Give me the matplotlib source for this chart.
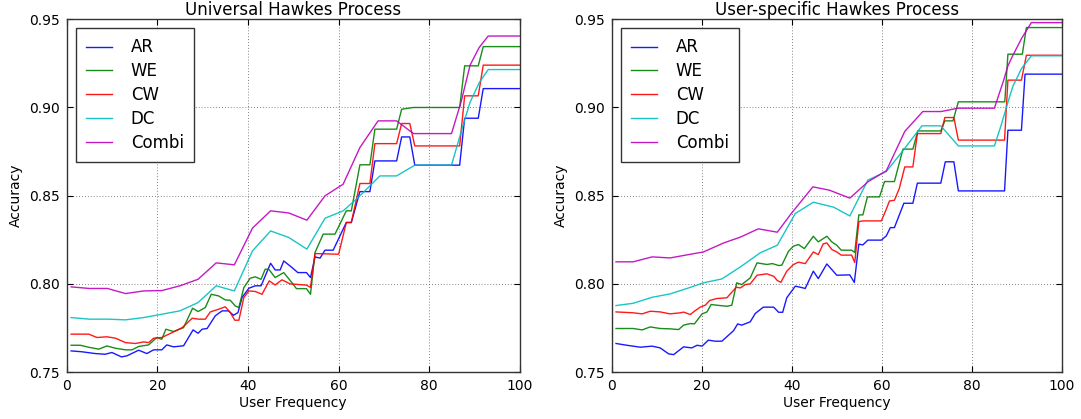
import matplotlib
matplotlib.use("Agg")
import matplotlib.pyplot as plt

# ---------------- Universal Hawkes Process (left) ----------------
L_AR_x = [1, 3.4, 6.3, 8.5, 10, 12.1, 13.3, 15.9, 17.7, 19.2, 21, 22.1, 23.6, 25.8, 27.9, 29, 29.9, 31, 32.8, 34.3,
          35.7, 36.8, 37.8, 38.7, 40.2, 41.6, 42.9, 45, 46, 47.1, 47.9, 49.7, 51, 52.9, 53.8, 54.8, 55.9, 57, 58.8,
          61.7, 62.8, 64.7, 66.9, 68, 72.8, 73.9, 75.7, 76.8, 86.7, 87.8, 90.8, 91.9, 100]
L_AR_y = [0.762, 0.7615, 0.7605, 0.7601, 0.7611, 0.7586, 0.7592, 0.7624, 0.7605, 0.7626, 0.7626, 0.7654, 0.7643,
          0.7649, 0.7739, 0.772, 0.7743, 0.7747, 0.7819, 0.7847, 0.7847, 0.7822, 0.7837, 0.7923, 0.7975, 0.7989,
          0.7989, 0.8117, 0.8079, 0.8079, 0.813, 0.8093, 0.8064, 0.8064, 0.8036, 0.8153, 0.8146, 0.8191, 0.8191,
          0.8348, 0.8348, 0.8523, 0.8523, 0.8697, 0.8697, 0.8833, 0.8833, 0.8673, 0.8673, 0.8939, 0.8939, 0.9107,
          0.9107]

L_WE_x = [1, 3, 5.2, 7.1, 8.9, 10.8, 13, 14.4, 15.9, 18.1, 19.9, 21, 21.9, 23.6, 25.8, 27.8, 29, 30.6, 31.9, 33.5,
          35, 36.1, 37.2, 38, 39.1, 40.5, 41.6, 42.9, 43.8, 44.6, 46, 47.9, 49.5, 50.7, 52.9, 53.8, 54.8, 56.6, 59.2,
          61.7, 62.8, 64.7, 66.9, 68, 72.8, 73.9, 76.5, 86.7, 87.8, 90.8, 91.9, 100]
L_WE_y = [0.7652, 0.7652, 0.7639, 0.763, 0.7648, 0.7635, 0.7626, 0.7626, 0.7645, 0.7654, 0.7696, 0.7686, 0.7743,
          0.773, 0.7752, 0.7862, 0.7843, 0.7866, 0.7941, 0.7932, 0.7909, 0.7907, 0.7875, 0.7866, 0.7979, 0.8032,
          0.804, 0.8026, 0.8083, 0.8083, 0.8036, 0.8064, 0.8013, 0.7973, 0.7973, 0.7941, 0.8178, 0.8282, 0.8282,
          0.8414, 0.8414, 0.8675, 0.8675, 0.8877, 0.8877, 0.899, 0.90, 0.90, 0.9236, 0.9236, 0.9345, 0.9345]

L_CW_x = [1, 4.9, 6.7, 8.9, 10.8, 13, 15.2, 17, 18.1, 19.2, 21, 23.3, 25.5, 27.7, 29.1, 30.6, 31.7, 33.5, 35, 36.1,
          37.1, 38, 39.1, 40.2, 41.6, 43.1, 44.7, 46, 47.5, 49.3, 52.9, 53.8, 54.8, 60, 61.7, 62.8, 64.7, 66.9, 68,
          72.8, 73.9, 75.7, 76.8, 86.7, 87.8, 90.8, 91.9, 100]
L_CW_y = [0.7715, 0.7715, 0.7696, 0.77, 0.7692, 0.7667, 0.7662, 0.7671, 0.7667, 0.7692, 0.7696, 0.7724, 0.7752,
          0.7805, 0.78, 0.78, 0.7841, 0.7856, 0.787, 0.7838, 0.7794, 0.7794, 0.7923, 0.796, 0.7957, 0.7941, 0.8017,
          0.7994, 0.8023, 0.80, 0.7993, 0.798, 0.8172, 0.8168, 0.8348, 0.8348, 0.8569, 0.8569, 0.8795, 0.8795,
          0.8909, 0.8909, 0.8782, 0.8782, 0.9066, 0.9066, 0.924, 0.924]

L_DC_x = [1, 5, 9, 13, 17, 21, 25, 29, 33, 37, 41, 45, 49, 53, 57, 61, 64.3, 69.1, 72.8, 76.8, 84.9, 87, 89, 91, 93, 100]
L_DC_y = [0.7809, 0.78, 0.78, 0.7796, 0.7809, 0.7828, 0.7847, 0.7894, 0.7989, 0.796, 0.8187, 0.830, 0.8263, 0.8197,
          0.8372, 0.8414, 0.8489, 0.8612, 0.8612, 0.8673, 0.8673, 0.886, 0.903, 0.914, 0.9215, 0.9215]

L_CO_x = [1, 5, 9, 13, 17, 21, 25, 29, 33, 37, 41, 45, 49, 53, 57, 61, 64.7, 68.7, 72.8, 76.5, 84.9, 87, 89, 91, 93, 100]
L_CO_y = [0.7983, 0.7974, 0.7974, 0.7945, 0.796, 0.7962, 0.7989, 0.8026, 0.8119, 0.8108, 0.8316, 0.8414, 0.8402,
          0.8361, 0.8499, 0.8565, 0.8773, 0.8924, 0.8924, 0.8852, 0.8852, 0.903, 0.924, 0.934, 0.9405, 0.9405]

# ---------------- User-specific Hawkes Process (right) ----------------
R_AR_x = [1, 3.4, 6.4, 9, 10.8, 12.7, 13.8, 16, 17.8, 19, 20.1, 21.5, 23, 24.5, 27.1, 28, 28.9, 30.8, 31.9, 33.7, 36,
          37.1, 38, 38.9, 40.8, 41.9, 43, 44.8, 45.9, 47.8, 50, 52.9, 53.9, 54.9, 55.8, 56.9, 59.9, 61, 61.9, 62.8,
          64.9, 66.9, 67.9, 73.1, 74.1, 76, 77, 87.25, 88, 91, 91.8, 100]
R_AR_y = [0.7662, 0.7652, 0.7641, 0.7647, 0.7637, 0.7603, 0.7599, 0.7643, 0.7637, 0.7652, 0.7647, 0.7681, 0.7675,
          0.7675, 0.7735, 0.7773, 0.7766, 0.7785, 0.7832, 0.7868, 0.7868, 0.7839, 0.7839, 0.7921, 0.7987, 0.7981,
          0.7974, 0.8072, 0.803, 0.8113, 0.8049, 0.8051, 0.8008, 0.8225, 0.8221, 0.8248, 0.8248, 0.8272, 0.8319,
          0.8319, 0.8457, 0.8457, 0.8571, 0.8571, 0.8692, 0.8692, 0.8527, 0.8527, 0.8871, 0.8871, 0.9189, 0.9189]

R_WE_x = [1, 4.8, 6.8, 8.6, 10.8, 13, 14.9, 16, 17.5, 18.4, 20.1, 21.2, 22.1, 23.4, 25.6, 26.7, 27.8, 28.9, 30.8,
          32.3, 34.5, 35.7, 37.1, 37.8, 39.3, 40.4, 41.5, 42.8, 44.8, 45.9, 47.8, 48.9, 50, 51, 53.3, 54, 54.9, 55.8,
          56.8, 59.5, 60.6, 62.8, 64.7, 66.9, 68, 73.1, 74, 75.8, 77, 87.3, 88, 91.2, 92.1, 100]
R_WE_y = [0.7747, 0.7747, 0.7739, 0.7756, 0.7747, 0.7745, 0.7741, 0.7766, 0.7775, 0.7773, 0.783, 0.7841, 0.7883,
          0.7879, 0.7873, 0.7879, 0.8006, 0.7996, 0.8034, 0.8119, 0.811, 0.8115, 0.8104, 0.8106, 0.8185, 0.8214,
          0.8223, 0.82, 0.827, 0.8238, 0.827, 0.8238, 0.8219, 0.8191, 0.8191, 0.8178, 0.8391, 0.8391, 0.8493, 0.8493,
          0.858, 0.858, 0.8764, 0.8764, 0.8867, 0.8867, 0.8924, 0.8924, 0.9032, 0.9032, 0.9302, 0.9302, 0.9453,
          0.9453]

R_CW_x = [1, 4.8, 6.8, 8.6, 10.8, 13, 15.3, 16, 17.5, 18.4, 19.7, 20.8, 21.8, 23.4, 25.6, 27.7, 28.6, 29.7, 30.8,
          32.3, 34.5, 36, 36.8, 37.6, 38.9, 40.4, 41.5, 43, 44.8, 45.9, 47, 47.8, 48.9, 50, 51, 53.3, 54, 54.9, 55.8,
          59.9, 61, 61.7, 62.8, 63.9, 65.1, 66.9, 67.9, 73.1, 74, 76, 77, 87.25, 88, 91, 92.1, 100]
R_CW_y = [0.7841, 0.7836, 0.783, 0.7845, 0.7841, 0.783, 0.7836, 0.784, 0.7826, 0.7845, 0.7868, 0.7879, 0.7906,
          0.7917, 0.7921, 0.7981, 0.7977, 0.7996, 0.80, 0.8049, 0.8057, 0.8043, 0.8019, 0.8009, 0.8072, 0.811,
          0.8123, 0.8115, 0.8181, 0.8166, 0.8227, 0.8232, 0.8195, 0.8181, 0.8163, 0.8163, 0.8121, 0.8353, 0.8357,
          0.8357, 0.8423, 0.847, 0.8474, 0.8542, 0.8663, 0.8663, 0.8852, 0.8852, 0.8943, 0.8943, 0.8815, 0.8815,
          0.9155, 0.9155, 0.9296, 0.9296]

R_DC_x = [1, 4.8, 9, 13, 17.1, 20.4, 24.5, 28.6, 33, 36.8, 40.8, 44.8, 49.3, 52.9, 56.9, 61, 64.7, 68.9, 73.1, 77,
          85, 86.5, 88, 89.1, 91, 93.2, 100]
R_DC_y = [0.7877, 0.789, 0.7924, 0.7943, 0.7977, 0.8006, 0.8028, 0.8096, 0.8176, 0.8219, 0.8399, 0.8463, 0.8435,
          0.8385, 0.8588, 0.8637, 0.8755, 0.8896, 0.8896, 0.8782, 0.8782, 0.890, 0.903, 0.912, 0.922, 0.9293, 0.9293]

R_CO_x = [1, 4.8, 9, 13, 17.1, 20.4, 24.9, 28.6, 32.6, 36.8, 40, 44.7, 48.4, 52.9, 57, 61, 65.1, 69.1, 73.2, 76.9,
          85, 87, 88, 89, 91, 93.2, 100]
R_CO_y = [0.8125, 0.8125, 0.8153, 0.8147, 0.8166, 0.8181, 0.8232, 0.8265, 0.8312, 0.8293, 0.8402, 0.855, 0.8531,
          0.8486, 0.858, 0.8641, 0.8864, 0.8977, 0.8977, 0.8996, 0.8996, 0.915, 0.9236, 0.929, 0.939, 0.9481, 0.9481]

labels = ["AR", "WE", "CW", "DC", "Combi"]
colors = ["b", "g", "r", "c", "m"]
titles = ["Universal Hawkes Process", "User-specific Hawkes Process"]
x_ticks = [0, 20, 40, 60, 80, 100]
y_ticks = [0.75, 0.80, 0.85, 0.90, 0.95]

panels = [
    [(L_AR_x, L_AR_y), (L_WE_x, L_WE_y), (L_CW_x, L_CW_y), (L_DC_x, L_DC_y), (L_CO_x, L_CO_y)],
    [(R_AR_x, R_AR_y), (R_WE_x, R_WE_y), (R_CW_x, R_CW_y), (R_DC_x, R_DC_y), (R_CO_x, R_CO_y)],
]

plt.rcParams["font.family"] = ["DejaVu Sans"]
fig = plt.figure(figsize=(10.81, 4.19), dpi=100)
fig.patch.set_facecolor("white")
axes_pos = [[0.0616, 0.112, 0.4194, 0.842], [0.5657, 0.112, 0.4167, 0.842]]

for k in range(2):
    ax = fig.add_axes(axes_pos[k])
    for (xs, ys), lab, col in zip(panels[k], labels, colors):
        ax.plot(xs, ys, color=col, lw=1.0, label=lab, alpha=0.9)
    ax.set_xlim(0, 100)
    ax.set_ylim(0.75, 0.95)
    ax.set_xticks(x_ticks)
    ax.set_yticks(y_ticks)
    ax.set_yticklabels(["%.2f" % v for v in y_ticks])
    ax.tick_params(direction="in", top=True, right=True, labelsize=10, length=4, width=0.8, pad=5)
    ax.grid(True, color="0.35", linestyle=(0, (1, 2.5)), linewidth=0.6)
    for s in ax.spines.values():
        s.set_linewidth(1.0)
        s.set_color("0.2")
    ax.set_title(titles[k], fontsize=12, pad=3)
    ax.set_xlabel("User Frequency", fontsize=10, labelpad=2)
    ax.set_ylabel("Accuracy", fontsize=10, labelpad=4)
    leg = ax.legend(loc="upper left", fontsize=12, fancybox=False, framealpha=1, edgecolor="0.2",
                    handlelength=1.6, handletextpad=1.1, labelspacing=0.35, borderpad=0.6,
                    borderaxespad=0.55)
    leg.get_frame().set_linewidth(1.0)

fig.savefig("out.png", dpi=100, facecolor="white")
